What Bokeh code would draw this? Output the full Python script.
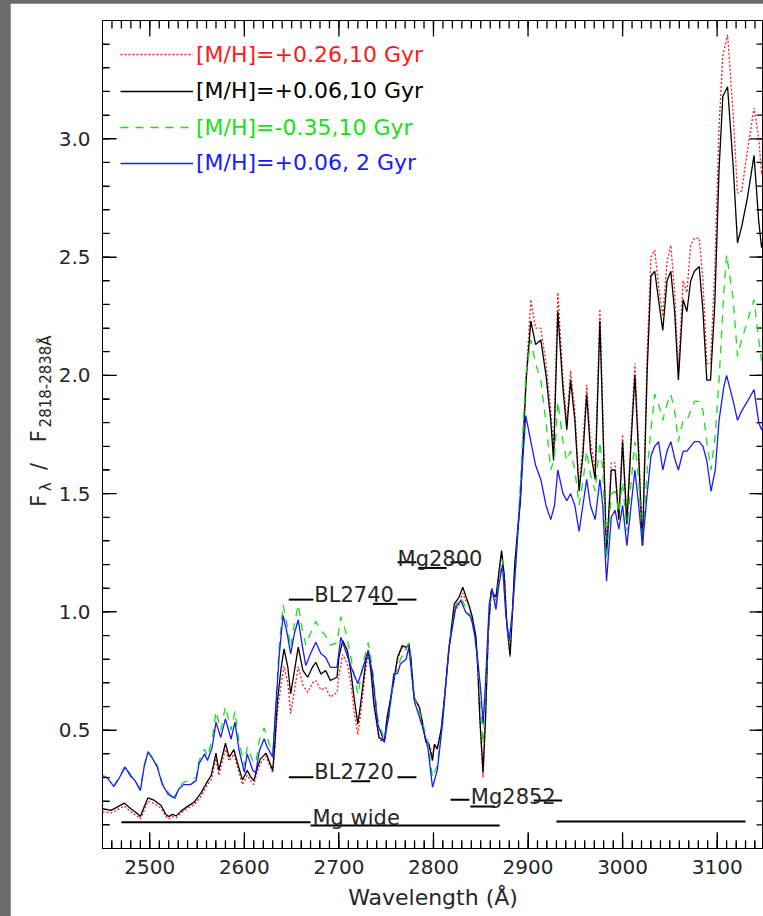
import math
from bokeh.plotting import figure
from bokeh.models import (Range1d, FixedTicker, PrintfTickFormatter,
                          Legend, LegendItem, Column, ColumnDataSource)
from bokeh.embed import file_html
from bokeh.resources import INLINE
from bokeh.core.properties import value

FONT = "DejaVu Sans"
TXT = "#262626"

# ---------------- data ----------------
wl_black = [2450, 2459, 2464, 2473, 2480, 2487, 2490, 2494, 2498, 2505, 2512, 2517, 2520, 2524, 2528,
            2533, 2540, 2547, 2554, 2561, 2565, 2570, 2573, 2580, 2584, 2589, 2593, 2598, 2603, 2607,
            2610, 2614, 2617, 2623, 2626, 2630, 2632, 2635, 2639, 2642, 2646, 2649, 2653, 2657, 2662,
            2667, 2672, 2675.5, 2681, 2686, 2691, 2698, 2700, 2704, 2709, 2713, 2716, 2720, 2723, 2728,
            2731, 2734, 2737, 2742.5, 2748, 2751, 2757, 2762, 2767, 2771, 2774, 2776, 2779.5, 2785, 2788,
            2792, 2795, 2799, 2801, 2804, 2808, 2811, 2816.5, 2822, 2827, 2831, 2834, 2837.6, 2841, 2845,
            2847, 2849, 2852.4, 2855, 2858, 2861, 2866, 2869, 2872, 2875, 2877.5, 2881, 2883.5, 2886, 2889,
            2892, 2898, 2903, 2908, 2913.5, 2919, 2924, 2927, 2931.5, 2937, 2941, 2945, 2949.5, 2954, 2958,
            2962, 2966, 2971, 2976, 2979, 2983, 2988, 2992, 2996, 3000, 3004.5, 3009, 3013, 3017, 3021,
            3026, 3030, 3034, 3038, 3042.5, 3047, 3051, 3055, 3059, 3064, 3068, 3072, 3076, 3081, 3085,
            3089, 3093, 3097.5, 3102, 3106, 3111, 3117, 3121.5, 3126, 3132, 3139, 3144, 3147, 3150]
flux_black = [0.168, 0.161, 0.172, 0.192, 0.168, 0.147, 0.135, 0.175, 0.214, 0.203, 0.182, 0.144, 0.135, 0.144, 0.138,
              0.158, 0.178, 0.196, 0.234, 0.284, 0.309, 0.403, 0.33, 0.445, 0.386, 0.418, 0.358, 0.29, 0.33, 0.301,
              0.287, 0.344, 0.379, 0.403, 0.372, 0.33, 0.428, 0.626, 0.766, 0.844, 0.766, 0.654, 0.752, 0.851, 0.752,
              0.724, 0.766, 0.787, 0.738, 0.752, 0.71, 0.724, 0.808, 0.879, 0.837, 0.738, 0.639, 0.527, 0.612, 0.78,
              0.837, 0.752, 0.612, 0.47, 0.453, 0.555, 0.682, 0.808, 0.858, 0.85, 0.865, 0.81, 0.639, 0.597, 0.541,
              0.449, 0.442, 0.372, 0.44, 0.421, 0.499, 0.612, 0.851, 1.034, 1.062, 1.104, 1.07, 1.027, 0.98, 0.893,
              0.752, 0.555, 0.322, 0.55, 0.921, 1.09, 1.062, 1.161, 1.259, 1.15, 0.95, 0.816, 1.0, 1.203, 1.344,
              1.47, 1.98, 2.23, 2.13, 2.15, 2.0, 1.81, 1.64, 2.27, 1.94, 1.77, 1.98, 1.81, 1.51, 1.66,
              1.92, 1.68, 1.56, 2.23, 1.81, 1.24, 1.6, 1.6, 1.39, 1.72, 1.37, 1.72, 2.0, 1.66, 1.28,
              2.02, 2.42, 2.44, 2.32, 2.19, 2.4, 2.44, 2.27, 1.98, 2.32, 2.27, 2.4, 2.44, 2.46, 2.27,
              1.98, 1.98, 2.3, 2.87, 3.18, 3.22, 2.88, 2.56, 2.63, 2.75, 2.93, 2.65, 2.54, 2.6]

wl_red = wl_black
flux_red = [0.155, 0.15, 0.16, 0.18, 0.155, 0.135, 0.125, 0.16, 0.2, 0.19, 0.17, 0.135, 0.125, 0.135, 0.13,
            0.15, 0.17, 0.185, 0.22, 0.27, 0.29, 0.38, 0.31, 0.42, 0.37, 0.40, 0.34, 0.27, 0.31, 0.285,
            0.27, 0.33, 0.36, 0.39, 0.36, 0.32, 0.41, 0.58, 0.70, 0.77, 0.70, 0.57, 0.67, 0.77, 0.69,
            0.66, 0.70, 0.71, 0.67, 0.68, 0.64, 0.66, 0.73, 0.82, 0.78, 0.69, 0.58, 0.48, 0.57, 0.75,
            0.82, 0.74, 0.60, 0.46, 0.45, 0.55, 0.68, 0.80, 0.85, 0.84, 0.86, 0.80, 0.63, 0.60, 0.54,
            0.45, 0.45, 0.39, 0.44, 0.42, 0.50, 0.61, 0.84, 1.0, 1.03, 1.08, 1.05, 1.03, 0.97, 0.88,
            0.74, 0.54, 0.30, 0.53, 0.91, 1.08, 1.05, 1.15, 1.25, 1.14, 0.95, 0.81, 1.0, 1.2, 1.35,
            1.5, 2.0, 2.32, 2.2, 2.2, 2.05, 1.85, 1.68, 2.35, 1.98, 1.8, 2.02, 1.85, 1.53, 1.7,
            1.96, 1.72, 1.6, 2.28, 1.85, 1.24, 1.63, 1.63, 1.4, 1.75, 1.38, 1.76, 2.05, 1.7, 1.28,
            2.1, 2.5, 2.53, 2.38, 2.25, 2.48, 2.55, 2.35, 2.02, 2.4, 2.35, 2.55, 2.58, 2.58, 2.4,
            2.05, 2.05, 2.45, 3.05, 3.35, 3.44, 3.1, 2.77, 2.78, 2.95, 3.13, 3.0, 2.85, 2.9]

wl_blue = [2450, 2455, 2462, 2468, 2474, 2480, 2484, 2490, 2494, 2498, 2503, 2508, 2513, 2519, 2526,
           2531, 2536, 2543, 2549, 2552, 2558, 2561, 2566, 2570, 2575, 2580, 2586, 2590, 2594.5, 2600,
           2603, 2609, 2612, 2616, 2621, 2624, 2630, 2633, 2637, 2641, 2645, 2649, 2653, 2657, 2661.5,
           2665, 2670, 2675.5, 2681, 2686, 2691, 2698, 2702, 2707, 2713, 2720, 2726.6, 2731, 2735.5, 2741,
           2748, 2753, 2758, 2762, 2765, 2771, 2774, 2780, 2788, 2794, 2799, 2804, 2809.5, 2816.5, 2823.6,
           2829, 2834, 2839.5, 2843, 2846.5, 2850, 2852.5, 2855, 2859, 2862, 2866, 2869, 2873, 2876.5, 2880,
           2883.5, 2887, 2892, 2897.6, 2903, 2908, 2913.5, 2919, 2924, 2928, 2931.5, 2937, 2941, 2945, 2949.5,
           2954, 2958, 2962, 2966, 2971, 2976, 2979, 2983, 2988, 2992, 2996, 3000, 3004.5, 3009, 3013,
           3017, 3021, 3026, 3030, 3034, 3038, 3042.5, 3047, 3051, 3055, 3059, 3064, 3068, 3072, 3076,
           3081, 3085, 3089, 3093.5, 3098, 3102, 3107, 3110, 3117, 3121.5, 3126, 3132, 3139, 3144, 3147, 3150]
flux_blue = [0.304, 0.30, 0.262, 0.30, 0.344, 0.304, 0.29, 0.245, 0.344, 0.407, 0.38, 0.344, 0.273, 0.231, 0.214,
             0.253, 0.27, 0.27, 0.287, 0.358, 0.40, 0.372, 0.428, 0.534, 0.47, 0.548, 0.462, 0.534, 0.414, 0.322,
             0.40, 0.33, 0.32, 0.414, 0.464, 0.43, 0.386, 0.583, 0.823, 0.985, 0.915, 0.823, 0.91, 0.967, 0.851,
             0.773, 0.823, 0.872, 0.823, 0.808, 0.766, 0.766, 0.893, 0.837, 0.766, 0.696, 0.78, 0.837, 0.738, 0.527,
             0.449, 0.57, 0.738, 0.74, 0.78, 0.80, 0.85, 0.62, 0.52, 0.428, 0.259, 0.33, 0.527, 0.851, 1.02,
             1.048, 1.0, 0.978, 0.92, 0.808, 0.668, 0.527, 0.70, 1.034, 1.1, 1.01, 1.11, 1.2, 0.99, 0.879,
             1.0, 1.2, 1.5, 1.83, 1.72, 1.62, 1.56, 1.45, 1.39, 1.45, 1.6, 1.5, 1.47, 1.5, 1.45,
             1.34, 1.45, 1.56, 1.45, 1.39, 1.56, 1.45, 1.13, 1.4, 1.43, 1.35, 1.45, 1.28, 1.45, 1.6,
             1.45, 1.28, 1.5, 1.66, 1.7, 1.72, 1.6, 1.68, 1.72, 1.65, 1.6, 1.68, 1.68, 1.7, 1.72,
             1.72, 1.7, 1.64, 1.51, 1.6, 1.81, 1.95, 2.0, 1.89, 1.81, 1.85, 1.89, 1.94, 1.8, 1.77, 1.8]

wl_green = wl_blue
flux_green = [0.31, 0.30, 0.265, 0.305, 0.35, 0.31, 0.29, 0.25, 0.35, 0.41, 0.385, 0.35, 0.28, 0.24, 0.20,
              0.26, 0.28, 0.29, 0.30, 0.37, 0.42, 0.39, 0.46, 0.58, 0.50, 0.60, 0.50, 0.58, 0.45, 0.35,
              0.43, 0.37, 0.36, 0.46, 0.51, 0.47, 0.40, 0.60, 0.86, 1.03, 0.95, 0.85, 0.95, 1.03, 0.92,
              0.86, 0.91, 0.96, 0.92, 0.90, 0.86, 0.87, 0.98, 0.92, 0.80, 0.65, 0.80, 0.87, 0.76, 0.55,
              0.46, 0.56, 0.72, 0.76, 0.80, 0.84, 0.87, 0.64, 0.54, 0.45, 0.30, 0.35, 0.53, 0.86, 1.03,
              1.06, 1.02, 0.98, 0.91, 0.80, 0.62, 0.44, 0.65, 1.02, 1.09, 1.03, 1.13, 1.22, 1.0, 0.86,
              1.0, 1.2, 1.55, 2.0, 2.15, 2.05, 1.98, 1.8, 1.6, 1.65, 1.89, 1.72, 1.64, 1.68, 1.6,
              1.45, 1.55, 1.68, 1.58, 1.51, 1.72, 1.6, 1.22, 1.5, 1.51, 1.42, 1.55, 1.34, 1.55, 1.72,
              1.55, 1.28, 1.6, 1.77, 1.92, 1.88, 1.81, 1.88, 1.92, 1.85, 1.72, 1.81, 1.81, 1.85, 1.89,
              1.89, 1.85, 1.72, 1.6, 1.75, 1.98, 2.35, 2.51, 2.32, 2.08, 2.15, 2.23, 2.32, 2.15, 2.06, 2.12]

series_labels = ["[M/H]=+0.26,10 Gyr", "[M/H]=+0.06,10 Gyr", "[M/H]=-0.35,10 Gyr", "[M/H]=+0.06, 2 Gyr"]

# index definitions: (blue continuum, band, red continuum) segments
idx_x0 = [2470, 2670, 2930, 2647, 2713, 2762, 2647, 2736, 2762, 2762, 2784, 2818, 2818, 2839, 2906]
idx_x1 = [2670, 2870, 3130, 2673, 2733, 2782, 2673, 2762, 2782, 2782, 2814, 2838, 2838, 2865, 2936]
idx_y = [0.111, 0.097, 0.114, 0.301, 0.284, 0.301, 1.052, 1.034, 1.052, 1.21, 1.186, 1.21, 0.206, 0.178, 0.203]
idx_names = ["Mg wide", "BL2720", "BL2740", "Mg2800", "Mg2852"]
idx_label_x = [2672, 2674, 2674, 2762, 2839.5]
idx_label_y = [0.130, 0.3225, 1.072, 1.2245, 0.217]

# y-axis title pieces "F_λ / F_2818-2838Å" (placed left of the frame)
ytitle_text = ["F", "λ", "/", "F", "2818-2838Å"]
ytitle_size = ["21px", "15px", "21px", "21px", "15px"]
ytitle_x = [2382.6, 2390.0, 2382.6, 2382.6, 2390.0]
ytitle_y = [1.445, 1.51, 1.60, 1.717, 1.78]

# tick positions
x_major = [2500, 2600, 2700, 2800, 2900, 3000, 3100]
x_minor = list(range(2460, 3150, 10))
y_major = [0.5, 1.0, 1.5, 2.0, 2.5, 3.0]
y_minor = [round(0.1 * i, 1) for i in range(1, 35)]

# ---------------- figure ----------------
X0, X1, Y0, Y1 = 2450, 3149, 0.0, 3.5
W, H = 753, 913
BL, BT, BB, BR = 92, 17, 68, 0
p = figure(width=W, height=H, x_range=Range1d(X0, X1), y_range=Range1d(Y0, Y1),
           output_backend="svg", toolbar_location=None,
           min_border_left=BL, min_border_top=BT, min_border_bottom=BB, min_border_right=BR)
p.margin = (3, 0, 0, 10)
p.background_fill_color = "white"
p.border_fill_color = "white"
p.outline_line_color = "black"
p.xgrid.visible = False
p.ygrid.visible = False

for ax, major, minor in ((p.xaxis[0], 16, 8), (p.yaxis[0], 14, 7)):
    ax.axis_line_color = "black"
    ax.major_tick_line_color = "black"
    ax.minor_tick_line_color = "black"
    ax.major_tick_in = major
    ax.major_tick_out = 0
    ax.minor_tick_in = minor
    ax.minor_tick_out = 0
    ax.major_label_text_font = FONT
    ax.major_label_text_color = TXT
    ax.major_label_text_font_size = "20px"
p.xaxis[0].ticker = FixedTicker(ticks=x_major, minor_ticks=x_minor)
p.yaxis[0].ticker = FixedTicker(ticks=y_major, minor_ticks=y_minor)
p.yaxis[0].formatter = PrintfTickFormatter(format="%.1f")
p.xaxis[0].major_label_standoff = 11
p.yaxis[0].major_label_standoff = 12
p.xaxis[0].axis_label = "Wavelength (Å)"
p.xaxis[0].axis_label_text_font = FONT
p.xaxis[0].axis_label_text_font_style = "normal"
p.xaxis[0].axis_label_text_font_size = "22px"
p.xaxis[0].axis_label_text_color = TXT
p.xaxis[0].axis_label_standoff = 8

# inward tick marks on all four sides (IDL style); lengths in pixels converted with the frame scale
px_x = (W - BL - BR) / (X1 - X0)      # pixels per Angstrom
px_y = (H - BT - BB) / (Y1 - Y0)      # pixels per flux unit
tick_xs, tick_ys = [], []
for ticks, L in ((x_major, 16.0), (x_minor, 8.0)):
    for t in ticks:
        tick_xs.append([float(t), float(t)])
        tick_ys.append([Y0, Y0 + L / px_y])
        tick_xs.append([float(t), float(t)])
        tick_ys.append([Y1, Y1 - L / px_y])
for ticks, L in ((y_major, 14.0), (y_minor, 7.0)):
    for t in ticks:
        tick_ys.append([float(t), float(t)])
        tick_xs.append([float(X0), X0 + L / px_x])
        tick_ys.append([float(t), float(t)])
        tick_xs.append([float(X1), X1 - L / px_x])
p.multi_line(xs=tick_xs, ys=tick_ys, line_color="black", line_width=1.3)

# ---------------- spectra ----------------
r_red = p.line(wl_red, flux_red, line_color="#ff1a1a", line_width=1.3, line_dash="2 2")
r_black = p.line(wl_black, flux_black, line_color="black", line_width=1.3)
r_green = p.line(wl_green, flux_green, line_color="#18e018", line_width=1.3, line_dash="8 7")
r_blue = p.line(wl_blue, flux_blue, line_color="#1a1aff", line_width=1.3)

# ---------------- index bands ----------------
p.segment(x0=idx_x0, y0=idx_y, x1=idx_x1, y1=idx_y, line_color="black", line_width=2)
p.text(x=idx_label_x, y=idx_label_y, text=idx_names, text_font=value(FONT), text_font_size="21px",
       text_color=TXT, text_align="left", text_baseline="alphabetic")

# ---------------- y-axis title (drawn on the overlay level so it is not clipped) ----------------
ysrc = ColumnDataSource(dict(x=ytitle_x, y=ytitle_y, t=ytitle_text, s=ytitle_size))
p.text(x="x", y="y", text="t", text_font_size="s", source=ysrc, angle=math.pi / 2,
       text_font=value(FONT), text_color=TXT, text_align="left", text_baseline="alphabetic",
       level="overlay")

# ---------------- legends (one per entry so each text has its colour) ----------------
leg_cols = ["#ff1a1a", "black", "#18e018", "#1a1aff"]
leg_rows = [54, 90.5, 127, 162.5]  # pixel rows of the sample lines in the picture
for r, lab, col, row in zip([r_red, r_black, r_green, r_blue], series_labels, leg_cols, leg_rows):
    leg = Legend(items=[LegendItem(label=lab, renderers=[r])],
                 location=(18, 848 - row - 15), padding=0, margin=0, spacing=0,
                 glyph_width=73, glyph_height=30, label_height=30, label_standoff=3,
                 label_text_font=FONT, label_text_font_size="22px", label_text_color=col,
                 label_text_baseline="alphabetic",
                 background_fill_alpha=0, border_line_alpha=0)
    p.add_layout(leg)

page = Column(children=[p], styles={"background-color": "#6b6b6b"})
open("out.html", "w").write(file_html(page, INLINE))
